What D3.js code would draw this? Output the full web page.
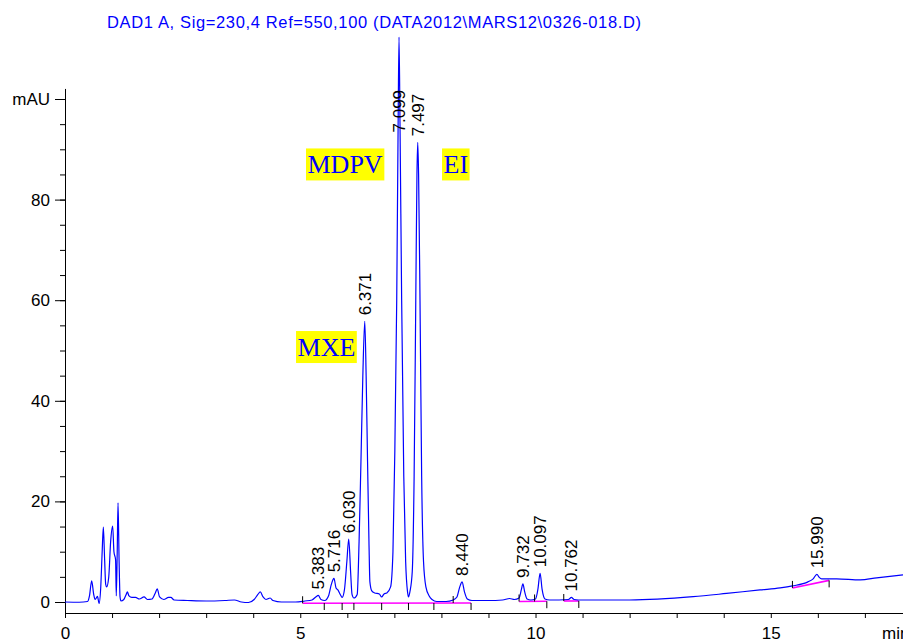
<!DOCTYPE html>
<html>
<head>
<meta charset="utf-8">
<script src="https://cdn.jsdelivr.net/npm/d3@7"></script>
<style>
  body { margin: 0; background: #fff; }
  text { font-family: Arial, "Liberation Sans", sans-serif; }
</style>
</head>
<body>
<script>
const chartWidth = 903;
const chartHeight = 639;
const traceColor = '#0000ff';
const baselineColor = '#ff00ff';

const titleText = 'DAD1 A, Sig=230,4 Ref=550,100 (DATA2012\\MARS12\\0326-018.D)';

// signal trace, [minutes, mAU]
const trace = [
  [0, 0], [0.3, -0.05], [0.48, 0.1], [0.52, 1.2], [0.567, 4.2], [0.61, 1.5], [0.64, 0.5],
  [0.69, 1.1], [0.725, -0.3], [0.76, 3], [0.79, 10], [0.815, 14.9], [0.84, 9], [0.865, 3.5],
  [0.885, 3.0], [0.93, 5], [0.97, 12], [1.013, 15.1], [1.04, 10], [1.075, 8.4], [1.09, 1.2],
  [1.11, 10], [1.127, 19.7], [1.15, 8], [1.17, 1], [1.19, 0.2], [1.25, 0.5], [1.30, 1.5],
  [1.325, 2.0], [1.36, 1.2], [1.42, 0.9], [1.5, 0.9], [1.58, 0.6], [1.68, 1.0], [1.75, 0.5],
  [1.85, 0.6], [1.92, 1.8], [1.96, 2.6], [2.01, 1.0], [2.1, 0.5], [2.2, 0.9], [2.25, 0.9],
  [2.32, 0.4], [2.6, 0.3], [3.0, 0.2], [3.4, 0.3], [3.6, 0.4], [3.75, 0.0], [3.9, -0.1],
  [4.02, 0.5], [4.1, 1.5], [4.15, 2.0], [4.21, 1.0], [4.27, 0.5], [4.36, 0.8], [4.42, 0.3],
  [4.6, 0.0], [4.9, 0.0], [5.1, 0.2], [5.25, 0.4], [5.33, 1.0], [5.383, 1.3], [5.44, 0.5],
  [5.52, 0.3], [5.6, 1.2], [5.66, 3.5], [5.716, 4.7], [5.76, 2.8], [5.8, 2.4], [5.85, 1.5],
  [5.89, 0.9], [5.94, 2.5], [5.99, 8], [6.03, 12.5], [6.07, 6], [6.1, 1.5], [6.14, 0.8],
  [6.21, 1.5], [6.25, 12], [6.29, 28], [6.33, 45], [6.371, 55.8], [6.40, 45], [6.43, 28],
  [6.46, 12], [6.48, 4], [6.52, 2.2], [6.58, 1.8], [6.68, 1.6], [6.73, 1.0], [6.78, 1.6],
  [6.84, 1.8], [6.92, 3], [6.97, 10], [7.01, 30], [7.05, 60], [7.08, 95], [7.099, 112.3],
  [7.12, 95], [7.155, 60], [7.2, 25], [7.24, 8], [7.28, 2], [7.30, 1.0], [7.33, 2],
  [7.38, 6], [7.42, 25], [7.455, 60], [7.48, 85], [7.497, 91.4], [7.515, 85], [7.545, 60],
  [7.58, 25], [7.62, 8], [7.67, 3], [7.74, 1.2], [7.8, 0.5], [7.9, 0.1], [8.1, 0.1],
  [8.25, 0.4], [8.33, 1.0], [8.39, 3], [8.44, 4.0], [8.49, 2], [8.55, 0.6], [8.65, 0.3],
  [9.0, 0.3], [9.3, 0.4], [9.45, 0.7], [9.55, 0.5], [9.65, 0.8], [9.7, 2.5], [9.732, 3.6],
  [9.77, 2], [9.82, 0.6], [9.9, 0.4], [10.0, 0.6], [10.05, 2.5], [10.097, 5.7], [10.14, 2.5],
  [10.2, 0.6], [10.3, 0.4], [10.7, 0.5], [10.762, 0.9], [10.82, 0.5], [11.0, 0.4], [12.0, 0.4],
  [13.35, 1.05], [14.06, 1.7], [14.77, 2.4], [15.2, 2.8], [15.46, 3.2], [15.79, 4.0],
  [15.9, 4.6], [15.98, 5.5], [16.03, 4.9], [16.08, 4.6], [16.4, 4.6], [16.9, 4.4],
  [17.25, 4.8], [17.81, 5.4]
];

const peakTimes = [5.383, 5.716, 6.030, 6.371, 7.099, 7.497, 8.440, 9.732, 10.097, 10.762, 15.990];
const peakLabels = ['5.383', '5.716', '6.030', '6.371', '7.099', '7.497', '8.440', '9.732', '10.097', '10.762', '15.990'];
const peakHeights = [1.3, 4.7, 12.5, 55.8, 112.3, 91.4, 4.0, 3.6, 5.7, 0.9, 5.5];

// integration baselines [t0, v0, t1, v1]
const baselines = [
  [5.05, -0.05, 8.63, 0.0],
  [9.65, 0.3, 10.24, 0.35],
  [10.6, 0.4, 10.92, 0.4],
  [15.46, 3.0, 16.24, 4.5]
];

// integration events [t, mAU, direction]
const events = [
  [5.05, -0.05, 1], [5.51, 0, -1], [5.89, 0, -1], [6.14, 0, -1], [6.73, 0, -1],
  [7.30, 0, -1], [7.84, 0, -1], [8.25, 0, 1], [8.63, 0, -1], [9.65, 0.3, 1],
  [9.98, 0.3, 1], [10.24, 0.35, -1], [10.6, 0.4, 1], [10.92, 0.4, -1],
  [15.46, 3.0, 1], [16.24, 4.5, -1]
];

const compoundNames = ['MDPV', 'EI', 'MXE'];
const compoundTimes = [5.122, 8.013, 4.91];
const compoundLevels = [85.3, 85.3, 49.0];

const xMajorTicks = [0, 5, 10, 15];
const yMajorTicks = [0, 20, 40, 60, 80, 100];

const xScale = d3.scaleLinear()
                .domain([0, 17.81])
                .range([65, 903]);

const yScale = d3.scaleLinear()
                .domain([0, 100])
                .range([602, 99]);

const svg = d3.select('body')
              .append('svg')
              .attr('width', chartWidth)
              .attr('height', chartHeight);

svg.append('text')
    .attr('x', 107)
    .attr('y', 28)
    .attr('fill', traceColor)
    .attr('textLength', 534)
    .attr('lengthAdjust', 'spacing')
    .style('font-size', '16.5px')
    .text(titleText);

// x axis
const xAxis = d3.axisBottom(xScale)
                .tickValues(d3.range(0, 18, 1))
                .tickSize(5)
                .tickSizeOuter(0)
                .tickPadding(9)
                .tickFormat(d => xMajorTicks.includes(d) ? d : '');

const xAxisGroup = svg.append('g')
    .attr('transform', 'translate(0,613)')
    .call(xAxis);
xAxisGroup.selectAll('text').style('font-size', '17px').attr('fill', '#000');
xAxisGroup.select('.domain').attr('stroke', '#000');

svg.append('text')
    .attr('x', 882)
    .attr('y', 639)
    .style('font-size', '17px')
    .text('min');

// y axis, minor then major
const yMinor = d3.axisLeft(yScale)
                .tickValues(d3.range(0, 101, 5))
                .tickSize(5)
                .tickFormat('');
const yMinorGroup = svg.append('g')
    .attr('transform', 'translate(65,0)')
    .call(yMinor);
yMinorGroup.select('.domain').remove();

const yMajor = d3.axisLeft(yScale)
                .tickValues(yMajorTicks)
                .tickSize(10)
                .tickPadding(5)
                .tickFormat(d => d === 100 ? 'mAU' : d);
const yMajorGroup = svg.append('g')
    .attr('transform', 'translate(65,0)')
    .call(yMajor);
yMajorGroup.select('.domain').remove();
yMajorGroup.selectAll('text').style('font-size', '17px').attr('fill', '#000');

svg.append('line')
    .attr('x1', 65.5).attr('x2', 65.5)
    .attr('y1', yScale(102))
    .attr('y2', 613)
    .attr('stroke', '#000');

// integration baselines
svg.selectAll('line.baseline')
    .data(baselines)
    .enter()
    .append('line')
    .attr('class', 'baseline')
    .attr('x1', d => xScale(d[0]))
    .attr('y1', d => yScale(d[1]) + 1)
    .attr('x2', d => xScale(d[2]))
    .attr('y2', d => yScale(d[3]) + 1)
    .attr('stroke', baselineColor)
    .attr('stroke-width', 1.6);

// trace
const line = d3.line()
               .x(d => xScale(d[0]))
               .y(d => yScale(d[1]))
               .curve(d3.curveMonotoneX);

svg.append('path')
    .datum(trace)
    .attr('d', line)
    .attr('fill', 'none')
    .attr('stroke', traceColor)
    .attr('stroke-width', 1.2);

// event ticks
svg.selectAll('line.event')
    .data(events)
    .enter()
    .append('line')
    .attr('class', 'event')
    .attr('x1', d => xScale(d[0]))
    .attr('x2', d => xScale(d[0]))
    .attr('y1', d => yScale(d[1]) + 1)
    .attr('y2', d => yScale(d[1]) + 1 - d[2] * 7)
    .attr('stroke', '#000')
    .attr('stroke-width', 1);

// peak labels, kept under the top of the y axis
const labelTop = yScale(101.8);
svg.selectAll('text.peak')
    .data(peakTimes)
    .enter()
    .append('text')
    .attr('class', 'peak')
    .style('font-size', '17px')
    .attr('dy', '0.35em')
    .text((d, i) => peakLabels[i])
    .attr('transform', function(d, i) {
      const len = this.getComputedTextLength();
      const y = Math.max(yScale(peakHeights[i]) - 6, labelTop + len);
      return 'translate(' + xScale(d) + ',' + y + ') rotate(-90)';
    });

// compound names
compoundNames.forEach((name, i) => {
  const g = svg.append('g');
  const t = g.append('text')
      .attr('x', xScale(compoundTimes[i]) + 1.5)
      .attr('y', yScale(compoundLevels[i]))
      .attr('fill', traceColor)
      .style('font-family', '"Liberation Serif", "Times New Roman", serif')
      .style('font-size', '26px')
      .text(name);
  const box = t.node().getBBox();
  g.insert('rect', 'text')
      .attr('x', box.x - 1.5)
      .attr('y', box.y - 1.5)
      .attr('width', box.width + 3)
      .attr('height', box.height + 3)
      .attr('fill', '#ffff00');
});
</script>
</body>
</html>
